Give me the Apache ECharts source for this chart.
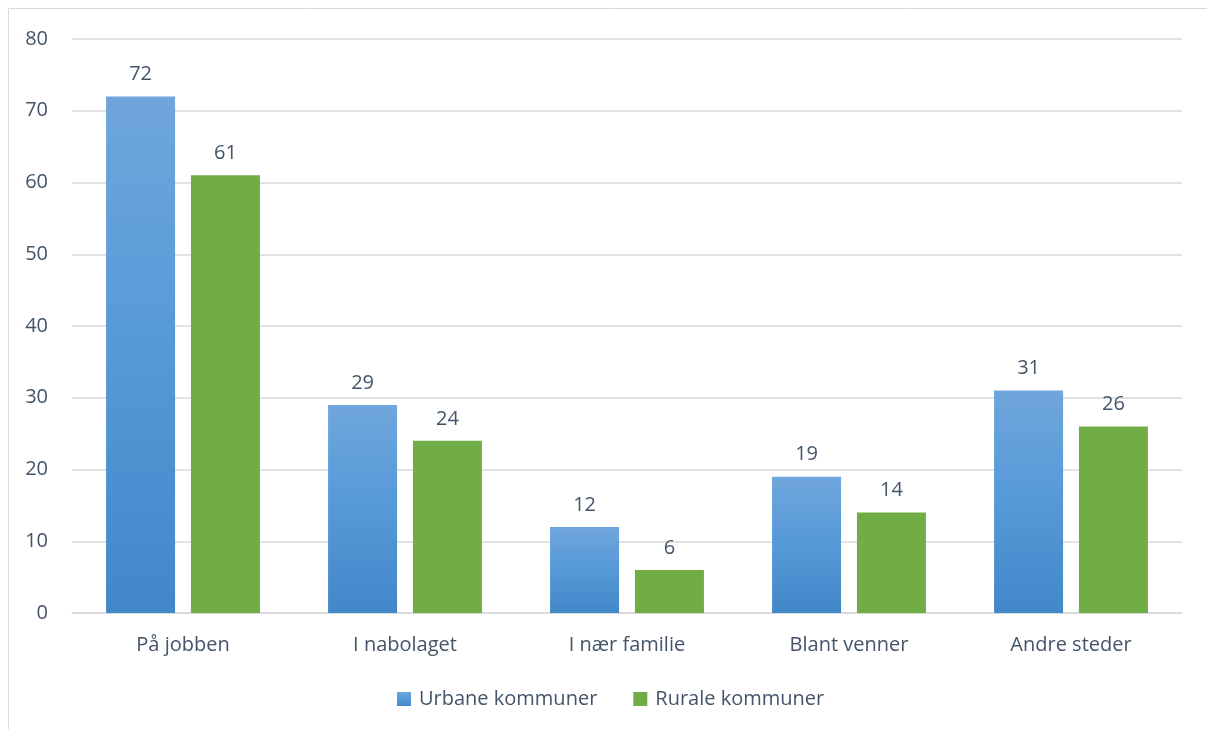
<!DOCTYPE html>
<html><head><meta charset="utf-8">
<script src="https://cdn.jsdelivr.net/npm/echarts@6/dist/echarts.min.js"></script>
<style>html,body{margin:0;padding:0;background:#fff}#c{width:1207px;height:729px}</style>
</head><body><div id="c"></div>
<script>
const categories = ["På jobben","I nabolaget","I nær familie","Blant venner","Andre steder"];
const urbane = [72,29,12,19,31];
const rurale = [61,24,6,14,26];
const seriesNames = ["Urbane kommuner","Rurale kommuner"];
const yTicks = {min:0,max:80,interval:10};

const chart = echarts.init(document.getElementById('c'));
const font = '"Open Sans", "Noto Sans", sans-serif';
const txt = '#44546a';
const fs = 20;
chart.setOption({
  animation:false,
  textStyle:{fontFamily:font},
  graphic:[{type:'rect',shape:{x:8.5,y:8.5,width:1240,height:760},style:{fill:'none',stroke:'#d9d9d9',lineWidth:1},silent:true}],
  grid:{left:72,right:25,top:39,bottom:116},
  legend:{top:684,left:392,itemWidth:14,itemHeight:14,itemGap:36,icon:'rect',
    textStyle:{color:txt,fontSize:fs,fontFamily:font,padding:[0,0,0,3]}},
  xAxis:{type:'category',data:categories,
    axisLine:{lineStyle:{color:'#d9d9d9',width:1.5}},axisTick:{show:false},
    axisLabel:{color:txt,fontSize:fs,margin:22,fontFamily:font}},
  yAxis:{type:'value',min:yTicks.min,max:yTicks.max,interval:yTicks.interval,
    axisLine:{show:false},axisTick:{show:false},
    splitLine:{lineStyle:{color:'#d9d9d9',width:1.5}},
    axisLabel:{color:txt,fontSize:fs,margin:24,fontFamily:font}},
  series:[
    {name:seriesNames[0],type:'bar',data:urbane,barWidth:69,barGap:'23%',
     itemStyle:{color:new echarts.graphic.LinearGradient(0,0,0,1,[{offset:0,color:'#6fa6dc'},{offset:0.5,color:'#5599d8'},{offset:1,color:'#4287c8'}])},
     label:{show:true,position:'top',distance:12,color:txt,fontSize:fs,fontFamily:font}},
    {name:seriesNames[1],type:'bar',data:rurale,barWidth:69,
     itemStyle:{color:'#70ad47'},
     label:{show:true,position:'top',distance:12,color:txt,fontSize:fs,fontFamily:font}}
  ]
});
</script></body></html>
